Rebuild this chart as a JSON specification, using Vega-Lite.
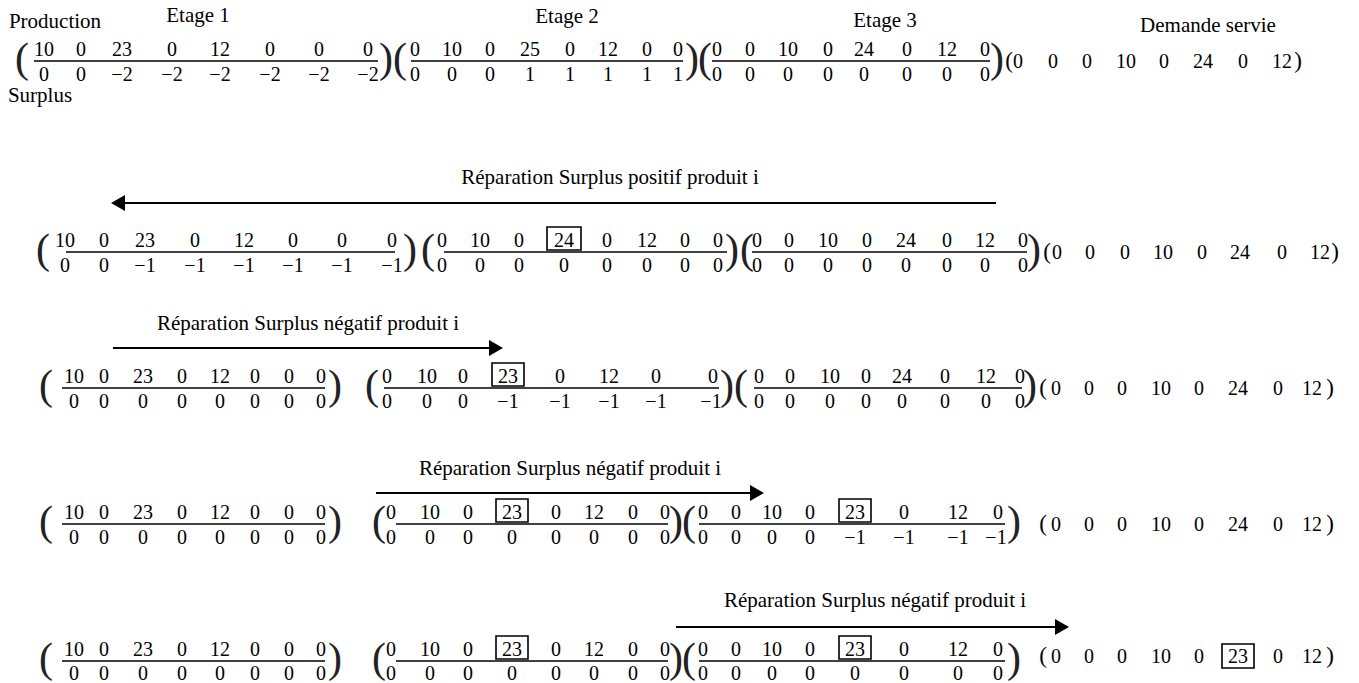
{
"$schema": "https://vega.github.io/schema/vega-lite/v6.json",
"width": 1359, "height": 683, "autosize": "none", "padding": 0,
"background": "white",
"config": {"view": {"stroke": null}},
"datasets": {
"txt": [
{"x":55,"y":28,"t":"Production","k":"l"},{"x":198,"y":22,"t":"Etage 1","k":"l"},{"x":567,"y":23,"t":"Etage 2","k":"l"},{"x":885,"y":27,"t":"Etage 3","k":"l"},{"x":1208,"y":32,"t":"Demande servie","k":"l"},{"x":40,"y":102,"t":"Surplus","k":"l"},
{"x":610,"y":184,"t":"Réparation Surplus positif produit i","k":"l"},
{"x":308,"y":330,"t":"Réparation Surplus négatif produit i","k":"l"},
{"x":570,"y":475,"t":"Réparation Surplus négatif produit i","k":"l"},
{"x":875,"y":607,"t":"Réparation Surplus négatif produit i","k":"l"},

{"x":22,"y":72,"t":"(","k":"p"},{"x":386,"y":72,"t":")","k":"p"},{"x":400,"y":72,"t":"(","k":"p"},{"x":692,"y":72,"t":")","k":"p"},{"x":705,"y":72,"t":"(","k":"p"},{"x":997,"y":72,"t":")","k":"p"},
{"x":43,"y":263,"t":"(","k":"p"},{"x":410,"y":263,"t":")","k":"p"},{"x":428,"y":263,"t":"(","k":"p"},{"x":732,"y":263,"t":")","k":"p"},{"x":747,"y":263,"t":"(","k":"p"},{"x":1034,"y":263,"t":")","k":"p"},
{"x":46,"y":399,"t":"(","k":"p"},{"x":335,"y":399,"t":")","k":"p"},{"x":372,"y":399,"t":"(","k":"p"},{"x":727,"y":399,"t":")","k":"p"},{"x":741,"y":399,"t":"(","k":"p"},{"x":1030,"y":399,"t":")","k":"p"},
{"x":46,"y":535,"t":"(","k":"p"},{"x":335,"y":535,"t":")","k":"p"},{"x":379,"y":535,"t":"(","k":"p"},{"x":676,"y":535,"t":")","k":"p"},{"x":689,"y":535,"t":"(","k":"p"},{"x":1014,"y":535,"t":")","k":"p"},
{"x":46,"y":672,"t":"(","k":"p"},{"x":335,"y":672,"t":")","k":"p"},{"x":379,"y":672,"t":"(","k":"p"},{"x":676,"y":672,"t":")","k":"p"},{"x":689,"y":672,"t":"(","k":"p"},{"x":1014,"y":672,"t":")","k":"p"},

{"x":1009,"y":68,"t":"(","k":"s"},{"x":1298,"y":68,"t":")","k":"s"},
{"x":1047,"y":259,"t":"(","k":"s"},{"x":1335,"y":259,"t":")","k":"s"},
{"x":1043,"y":395,"t":"(","k":"s"},{"x":1330,"y":395,"t":")","k":"s"},
{"x":1043,"y":531,"t":"(","k":"s"},{"x":1330,"y":531,"t":")","k":"s"},
{"x":1043,"y":663,"t":"(","k":"s"},{"x":1330,"y":663,"t":")","k":"s"},

{"x":44,"y":56,"t":"10","k":"n"},{"x":81,"y":56,"t":"0","k":"n"},{"x":122,"y":56,"t":"23","k":"n"},{"x":172,"y":56,"t":"0","k":"n"},{"x":220,"y":56,"t":"12","k":"n"},{"x":270,"y":56,"t":"0","k":"n"},{"x":319,"y":56,"t":"0","k":"n"},{"x":368,"y":56,"t":"0","k":"n"},
{"x":44,"y":81,"t":"0","k":"n"},{"x":81,"y":81,"t":"0","k":"n"},{"x":122,"y":81,"t":"−2","k":"n"},{"x":172,"y":81,"t":"−2","k":"n"},{"x":220,"y":81,"t":"−2","k":"n"},{"x":270,"y":81,"t":"−2","k":"n"},{"x":319,"y":81,"t":"−2","k":"n"},{"x":368,"y":81,"t":"−2","k":"n"},
{"x":415,"y":56,"t":"0","k":"n"},{"x":452,"y":56,"t":"10","k":"n"},{"x":490,"y":56,"t":"0","k":"n"},{"x":530,"y":56,"t":"25","k":"n"},{"x":570,"y":56,"t":"0","k":"n"},{"x":608,"y":56,"t":"12","k":"n"},{"x":647,"y":56,"t":"0","k":"n"},{"x":678,"y":56,"t":"0","k":"n"},
{"x":415,"y":81,"t":"0","k":"n"},{"x":452,"y":81,"t":"0","k":"n"},{"x":490,"y":81,"t":"0","k":"n"},{"x":530,"y":81,"t":"1","k":"n"},{"x":570,"y":81,"t":"1","k":"n"},{"x":608,"y":81,"t":"1","k":"n"},{"x":647,"y":81,"t":"1","k":"n"},{"x":678,"y":81,"t":"1","k":"n"},
{"x":717,"y":56,"t":"0","k":"n"},{"x":750,"y":56,"t":"0","k":"n"},{"x":788,"y":56,"t":"10","k":"n"},{"x":828,"y":56,"t":"0","k":"n"},{"x":864,"y":56,"t":"24","k":"n"},{"x":907,"y":56,"t":"0","k":"n"},{"x":947,"y":56,"t":"12","k":"n"},{"x":985,"y":56,"t":"0","k":"n"},
{"x":717,"y":81,"t":"0","k":"n"},{"x":750,"y":81,"t":"0","k":"n"},{"x":788,"y":81,"t":"0","k":"n"},{"x":828,"y":81,"t":"0","k":"n"},{"x":864,"y":81,"t":"0","k":"n"},{"x":907,"y":81,"t":"0","k":"n"},{"x":947,"y":81,"t":"0","k":"n"},{"x":985,"y":81,"t":"0","k":"n"},
{"x":1018,"y":68,"t":"0","k":"n"},{"x":1053,"y":68,"t":"0","k":"n"},{"x":1087,"y":68,"t":"0","k":"n"},{"x":1126,"y":68,"t":"10","k":"n"},{"x":1164,"y":68,"t":"0","k":"n"},{"x":1203,"y":68,"t":"24","k":"n"},{"x":1243,"y":68,"t":"0","k":"n"},{"x":1282,"y":68,"t":"12","k":"n"},

{"x":65,"y":247,"t":"10","k":"n"},{"x":104,"y":247,"t":"0","k":"n"},{"x":145,"y":247,"t":"23","k":"n"},{"x":195,"y":247,"t":"0","k":"n"},{"x":244,"y":247,"t":"12","k":"n"},{"x":293,"y":247,"t":"0","k":"n"},{"x":342,"y":247,"t":"0","k":"n"},{"x":392,"y":247,"t":"0","k":"n"},
{"x":65,"y":272,"t":"0","k":"n"},{"x":104,"y":272,"t":"0","k":"n"},{"x":145,"y":272,"t":"−1","k":"n"},{"x":195,"y":272,"t":"−1","k":"n"},{"x":244,"y":272,"t":"−1","k":"n"},{"x":293,"y":272,"t":"−1","k":"n"},{"x":342,"y":272,"t":"−1","k":"n"},{"x":392,"y":272,"t":"−1","k":"n"},
{"x":442,"y":247,"t":"0","k":"n"},{"x":480,"y":247,"t":"10","k":"n"},{"x":519,"y":247,"t":"0","k":"n"},{"x":564,"y":247,"t":"24","k":"n"},{"x":607,"y":247,"t":"0","k":"n"},{"x":647,"y":247,"t":"12","k":"n"},{"x":685,"y":247,"t":"0","k":"n"},{"x":718,"y":247,"t":"0","k":"n"},
{"x":442,"y":272,"t":"0","k":"n"},{"x":480,"y":272,"t":"0","k":"n"},{"x":519,"y":272,"t":"0","k":"n"},{"x":564,"y":272,"t":"0","k":"n"},{"x":607,"y":272,"t":"0","k":"n"},{"x":647,"y":272,"t":"0","k":"n"},{"x":685,"y":272,"t":"0","k":"n"},{"x":718,"y":272,"t":"0","k":"n"},
{"x":757,"y":247,"t":"0","k":"n"},{"x":789,"y":247,"t":"0","k":"n"},{"x":828,"y":247,"t":"10","k":"n"},{"x":867,"y":247,"t":"0","k":"n"},{"x":906,"y":247,"t":"24","k":"n"},{"x":947,"y":247,"t":"0","k":"n"},{"x":985,"y":247,"t":"12","k":"n"},{"x":1023,"y":247,"t":"0","k":"n"},
{"x":757,"y":272,"t":"0","k":"n"},{"x":789,"y":272,"t":"0","k":"n"},{"x":828,"y":272,"t":"0","k":"n"},{"x":867,"y":272,"t":"0","k":"n"},{"x":906,"y":272,"t":"0","k":"n"},{"x":947,"y":272,"t":"0","k":"n"},{"x":985,"y":272,"t":"0","k":"n"},{"x":1023,"y":272,"t":"0","k":"n"},
{"x":1057,"y":259,"t":"0","k":"n"},{"x":1090,"y":259,"t":"0","k":"n"},{"x":1125,"y":259,"t":"0","k":"n"},{"x":1163,"y":259,"t":"10","k":"n"},{"x":1202,"y":259,"t":"0","k":"n"},{"x":1240,"y":259,"t":"24","k":"n"},{"x":1282,"y":259,"t":"0","k":"n"},{"x":1320,"y":259,"t":"12","k":"n"},

{"x":74,"y":383,"t":"10","k":"n"},{"x":104,"y":383,"t":"0","k":"n"},{"x":143,"y":383,"t":"23","k":"n"},{"x":182,"y":383,"t":"0","k":"n"},{"x":220,"y":383,"t":"12","k":"n"},{"x":255,"y":383,"t":"0","k":"n"},{"x":289,"y":383,"t":"0","k":"n"},{"x":321,"y":383,"t":"0","k":"n"},
{"x":74,"y":408,"t":"0","k":"n"},{"x":104,"y":408,"t":"0","k":"n"},{"x":143,"y":408,"t":"0","k":"n"},{"x":182,"y":408,"t":"0","k":"n"},{"x":220,"y":408,"t":"0","k":"n"},{"x":255,"y":408,"t":"0","k":"n"},{"x":289,"y":408,"t":"0","k":"n"},{"x":321,"y":408,"t":"0","k":"n"},
{"x":387,"y":383,"t":"0","k":"n"},{"x":427,"y":383,"t":"10","k":"n"},{"x":463,"y":383,"t":"0","k":"n"},{"x":508,"y":383,"t":"23","k":"n"},{"x":560,"y":383,"t":"0","k":"n"},{"x":609,"y":383,"t":"12","k":"n"},{"x":656,"y":383,"t":"0","k":"n"},{"x":713,"y":383,"t":"0","k":"n"},
{"x":387,"y":408,"t":"0","k":"n"},{"x":427,"y":408,"t":"0","k":"n"},{"x":463,"y":408,"t":"0","k":"n"},{"x":508,"y":408,"t":"−1","k":"n"},{"x":560,"y":408,"t":"−1","k":"n"},{"x":609,"y":408,"t":"−1","k":"n"},{"x":656,"y":408,"t":"−1","k":"n"},{"x":711,"y":408,"t":"−1","k":"n"},
{"x":759,"y":383,"t":"0","k":"n"},{"x":790,"y":383,"t":"0","k":"n"},{"x":830,"y":383,"t":"10","k":"n"},{"x":866,"y":383,"t":"0","k":"n"},{"x":902,"y":383,"t":"24","k":"n"},{"x":945,"y":383,"t":"0","k":"n"},{"x":986,"y":383,"t":"12","k":"n"},{"x":1020,"y":383,"t":"0","k":"n"},
{"x":759,"y":408,"t":"0","k":"n"},{"x":790,"y":408,"t":"0","k":"n"},{"x":830,"y":408,"t":"0","k":"n"},{"x":866,"y":408,"t":"0","k":"n"},{"x":902,"y":408,"t":"0","k":"n"},{"x":945,"y":408,"t":"0","k":"n"},{"x":986,"y":408,"t":"0","k":"n"},{"x":1020,"y":408,"t":"0","k":"n"},
{"x":1056,"y":395,"t":"0","k":"n"},{"x":1089,"y":395,"t":"0","k":"n"},{"x":1122,"y":395,"t":"0","k":"n"},{"x":1161,"y":395,"t":"10","k":"n"},{"x":1199,"y":395,"t":"0","k":"n"},{"x":1238,"y":395,"t":"24","k":"n"},{"x":1278,"y":395,"t":"0","k":"n"},{"x":1312,"y":395,"t":"12","k":"n"},

{"x":74,"y":519,"t":"10","k":"n"},{"x":104,"y":519,"t":"0","k":"n"},{"x":143,"y":519,"t":"23","k":"n"},{"x":182,"y":519,"t":"0","k":"n"},{"x":220,"y":519,"t":"12","k":"n"},{"x":255,"y":519,"t":"0","k":"n"},{"x":289,"y":519,"t":"0","k":"n"},{"x":321,"y":519,"t":"0","k":"n"},
{"x":74,"y":544,"t":"0","k":"n"},{"x":104,"y":544,"t":"0","k":"n"},{"x":143,"y":544,"t":"0","k":"n"},{"x":182,"y":544,"t":"0","k":"n"},{"x":220,"y":544,"t":"0","k":"n"},{"x":255,"y":544,"t":"0","k":"n"},{"x":289,"y":544,"t":"0","k":"n"},{"x":321,"y":544,"t":"0","k":"n"},
{"x":391,"y":519,"t":"0","k":"n"},{"x":430,"y":519,"t":"10","k":"n"},{"x":468,"y":519,"t":"0","k":"n"},{"x":512,"y":519,"t":"23","k":"n"},{"x":556,"y":519,"t":"0","k":"n"},{"x":594,"y":519,"t":"12","k":"n"},{"x":633,"y":519,"t":"0","k":"n"},{"x":665,"y":519,"t":"0","k":"n"},
{"x":391,"y":544,"t":"0","k":"n"},{"x":430,"y":544,"t":"0","k":"n"},{"x":468,"y":544,"t":"0","k":"n"},{"x":512,"y":544,"t":"0","k":"n"},{"x":556,"y":544,"t":"0","k":"n"},{"x":594,"y":544,"t":"0","k":"n"},{"x":633,"y":544,"t":"0","k":"n"},{"x":665,"y":544,"t":"0","k":"n"},
{"x":703,"y":519,"t":"0","k":"n"},{"x":736,"y":519,"t":"0","k":"n"},{"x":772,"y":519,"t":"10","k":"n"},{"x":810,"y":519,"t":"0","k":"n"},{"x":855,"y":519,"t":"23","k":"n"},{"x":904,"y":519,"t":"0","k":"n"},{"x":958,"y":519,"t":"12","k":"n"},{"x":998,"y":519,"t":"0","k":"n"},
{"x":703,"y":544,"t":"0","k":"n"},{"x":736,"y":544,"t":"0","k":"n"},{"x":772,"y":544,"t":"0","k":"n"},{"x":810,"y":544,"t":"0","k":"n"},{"x":855,"y":544,"t":"−1","k":"n"},{"x":904,"y":544,"t":"−1","k":"n"},{"x":958,"y":544,"t":"−1","k":"n"},{"x":996,"y":544,"t":"−1","k":"n"},
{"x":1056,"y":531,"t":"0","k":"n"},{"x":1089,"y":531,"t":"0","k":"n"},{"x":1122,"y":531,"t":"0","k":"n"},{"x":1161,"y":531,"t":"10","k":"n"},{"x":1199,"y":531,"t":"0","k":"n"},{"x":1238,"y":531,"t":"24","k":"n"},{"x":1278,"y":531,"t":"0","k":"n"},{"x":1312,"y":531,"t":"12","k":"n"},

{"x":74,"y":656,"t":"10","k":"n"},{"x":104,"y":656,"t":"0","k":"n"},{"x":143,"y":656,"t":"23","k":"n"},{"x":182,"y":656,"t":"0","k":"n"},{"x":220,"y":656,"t":"12","k":"n"},{"x":255,"y":656,"t":"0","k":"n"},{"x":289,"y":656,"t":"0","k":"n"},{"x":321,"y":656,"t":"0","k":"n"},
{"x":74,"y":680,"t":"0","k":"n"},{"x":104,"y":680,"t":"0","k":"n"},{"x":143,"y":680,"t":"0","k":"n"},{"x":182,"y":680,"t":"0","k":"n"},{"x":220,"y":680,"t":"0","k":"n"},{"x":255,"y":680,"t":"0","k":"n"},{"x":289,"y":680,"t":"0","k":"n"},{"x":321,"y":680,"t":"0","k":"n"},
{"x":391,"y":656,"t":"0","k":"n"},{"x":430,"y":656,"t":"10","k":"n"},{"x":468,"y":656,"t":"0","k":"n"},{"x":512,"y":656,"t":"23","k":"n"},{"x":556,"y":656,"t":"0","k":"n"},{"x":594,"y":656,"t":"12","k":"n"},{"x":633,"y":656,"t":"0","k":"n"},{"x":665,"y":656,"t":"0","k":"n"},
{"x":391,"y":680,"t":"0","k":"n"},{"x":430,"y":680,"t":"0","k":"n"},{"x":468,"y":680,"t":"0","k":"n"},{"x":512,"y":680,"t":"0","k":"n"},{"x":556,"y":680,"t":"0","k":"n"},{"x":594,"y":680,"t":"0","k":"n"},{"x":633,"y":680,"t":"0","k":"n"},{"x":665,"y":680,"t":"0","k":"n"},
{"x":703,"y":656,"t":"0","k":"n"},{"x":736,"y":656,"t":"0","k":"n"},{"x":772,"y":656,"t":"10","k":"n"},{"x":810,"y":656,"t":"0","k":"n"},{"x":855,"y":656,"t":"23","k":"n"},{"x":904,"y":656,"t":"0","k":"n"},{"x":958,"y":656,"t":"12","k":"n"},{"x":998,"y":656,"t":"0","k":"n"},
{"x":703,"y":680,"t":"0","k":"n"},{"x":736,"y":680,"t":"0","k":"n"},{"x":772,"y":680,"t":"0","k":"n"},{"x":810,"y":680,"t":"0","k":"n"},{"x":855,"y":680,"t":"0","k":"n"},{"x":904,"y":680,"t":"0","k":"n"},{"x":958,"y":680,"t":"0","k":"n"},{"x":998,"y":680,"t":"0","k":"n"},
{"x":1056,"y":663,"t":"0","k":"n"},{"x":1089,"y":663,"t":"0","k":"n"},{"x":1122,"y":663,"t":"0","k":"n"},{"x":1161,"y":663,"t":"10","k":"n"},{"x":1199,"y":663,"t":"0","k":"n"},{"x":1238,"y":663,"t":"23","k":"n"},{"x":1278,"y":663,"t":"0","k":"n"},{"x":1312,"y":663,"t":"12","k":"n"}
],
"fracs": [
{"x":34,"x2":378,"y":61},{"x":411,"x2":683,"y":61},{"x":712,"x2":990,"y":61},
{"x":66,"x2":395,"y":252},{"x":444,"x2":727,"y":252},{"x":752,"x2":1027,"y":252},
{"x":62,"x2":325,"y":388},{"x":384,"x2":719,"y":388},{"x":754,"x2":1022,"y":388},
{"x":62,"x2":325,"y":524},{"x":396,"x2":668,"y":524},{"x":699,"x2":1005,"y":524},
{"x":62,"x2":325,"y":661},{"x":396,"x2":668,"y":661},{"x":699,"x2":1005,"y":661}
],
"arrows": [
{"x":996,"x2":124,"y":203},{"x":113,"x2":492,"y":348},{"x":376,"x2":753,"y":493},{"x":676,"x2":1058,"y":627}
],
"heads": [
{"x":118,"y":203,"dir":"left"},{"x":496,"y":348,"dir":"right"},{"x":757,"y":493,"dir":"right"},{"x":1062,"y":627,"dir":"right"}
],
"boxes": [
{"x":547,"x2":581,"y":227,"y2":250},
{"x":492,"x2":524,"y":363,"y2":386},
{"x":496,"x2":528,"y":499,"y2":522},{"x":839,"x2":871,"y":499,"y2":522},
{"x":496,"x2":528,"y":636,"y2":659},{"x":839,"x2":871,"y":636,"y2":659},{"x":1222,"x2":1254,"y":644,"y2":668}
]
},
"layer": [
{"data": {"name": "fracs"}, "mark": {"type": "rule", "color": "black", "strokeWidth": 1.4},
 "encoding": {"x": {"field": "x", "type": "quantitative", "scale": {"domain": [0, 1359], "nice": false, "zero": false}, "axis": null}, "x2": {"field": "x2"},
  "y": {"field": "y", "type": "quantitative", "scale": {"domain": [0, 683], "reverse": true, "nice": false, "zero": false}, "axis": null}}},
{"data": {"name": "arrows"}, "mark": {"type": "rule", "color": "black", "strokeWidth": 2},
 "encoding": {"x": {"field": "x", "type": "quantitative"}, "x2": {"field": "x2"}, "y": {"field": "y", "type": "quantitative"}}},
{"data": {"name": "heads"}, "mark": {"type": "point", "filled": true, "color": "black", "opacity": 1, "size": 260},
 "encoding": {"x": {"field": "x", "type": "quantitative"}, "y": {"field": "y", "type": "quantitative"},
  "shape": {"field": "dir", "type": "nominal", "scale": {"domain": ["left", "right"], "range": ["triangle-left", "triangle-right"]}, "legend": null}}},
{"data": {"name": "boxes"}, "mark": {"type": "rect", "fill": "white", "fillOpacity": 0, "stroke": "black", "strokeWidth": 1.6},
 "encoding": {"x": {"field": "x", "type": "quantitative"}, "x2": {"field": "x2"}, "y": {"field": "y", "type": "quantitative"}, "y2": {"field": "y2"}}},
{"data": {"name": "txt"}, "transform": [{"filter": "datum.k === 'n'"}],
 "mark": {"type": "text", "font": "Liberation Serif, Times New Roman, serif", "fontSize": 20, "align": "center", "baseline": "alphabetic", "color": "black"},
 "encoding": {"x": {"field": "x", "type": "quantitative"}, "y": {"field": "y", "type": "quantitative"}, "text": {"field": "t"}}},
{"data": {"name": "txt"}, "transform": [{"filter": "datum.k === 's'"}],
 "mark": {"type": "text", "font": "Liberation Serif, Times New Roman, serif", "fontSize": 23, "align": "center", "baseline": "alphabetic", "color": "black"},
 "encoding": {"x": {"field": "x", "type": "quantitative"}, "y": {"field": "y", "type": "quantitative"}, "text": {"field": "t"}}},
{"data": {"name": "txt"}, "transform": [{"filter": "datum.k === 'p'"}],
 "mark": {"type": "text", "font": "Liberation Serif, Times New Roman, serif", "fontSize": 42, "align": "center", "baseline": "alphabetic", "color": "#222222"},
 "encoding": {"x": {"field": "x", "type": "quantitative"}, "y": {"field": "y", "type": "quantitative"}, "text": {"field": "t"}}},
{"data": {"name": "txt"}, "transform": [{"filter": "datum.k === 'l'"}],
 "mark": {"type": "text", "font": "Liberation Serif, Times New Roman, serif", "fontSize": 21, "align": "center", "baseline": "alphabetic", "color": "black"},
 "encoding": {"x": {"field": "x", "type": "quantitative"}, "y": {"field": "y", "type": "quantitative"}, "text": {"field": "t"}}}
]
}
